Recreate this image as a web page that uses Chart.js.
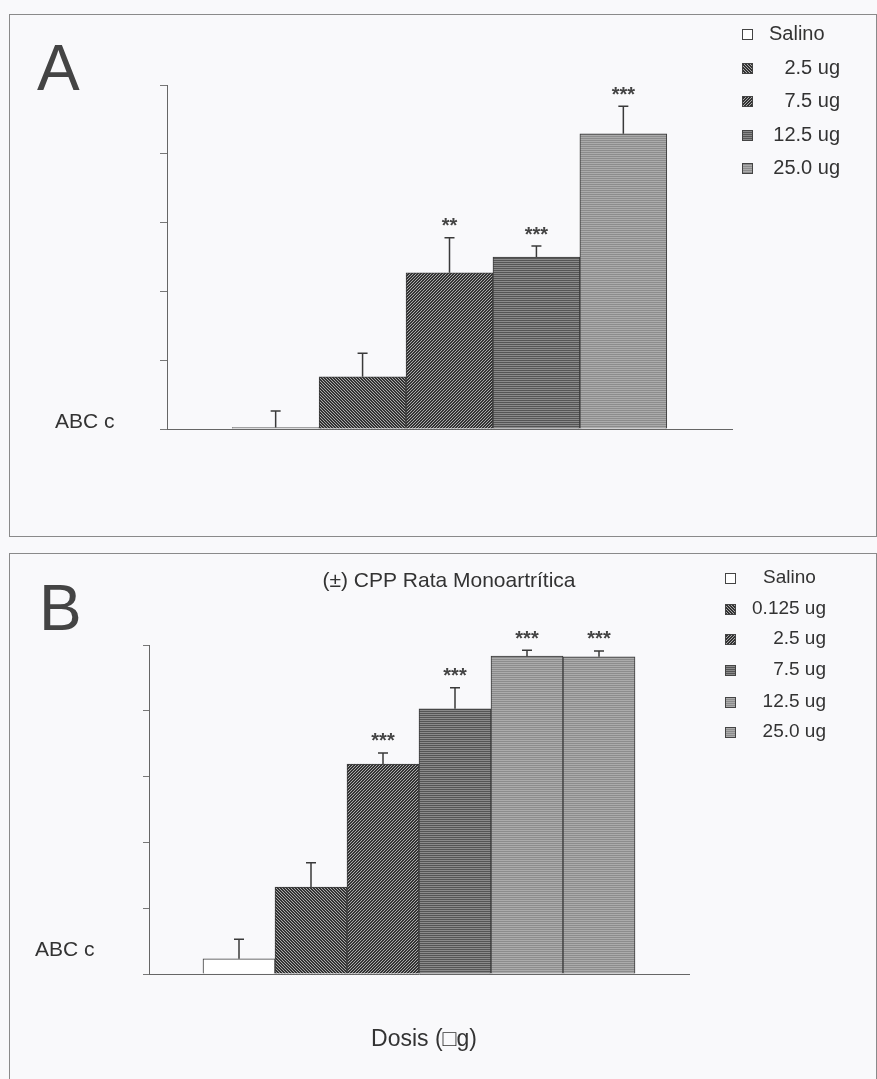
<!DOCTYPE html>
<html>
<head>
<meta charset="utf-8">
<script src="https://cdn.jsdelivr.net/npm/chart.js@4/dist/chart.umd.min.js"></script>
<style>
  body { margin: 0; background: #f9f9fb; width: 877px; height: 1079px; overflow: hidden; position: relative; }
  .panel { position: absolute; border: 1px solid #8a8a8a; }
  canvas { position: absolute; left: 0; }
</style>
</head>
<body>
<div class="panel" style="left:9px; top:14px; width:866px; height:521px;"></div>
<div class="panel" style="left:9px; top:553px; width:866px; height:540px;"></div>
<canvas id="chartA" width="877" height="545" style="top:0"></canvas>
<canvas id="chartB" width="877" height="534" style="top:545px"></canvas>
<script>
// Panel A data
const labelsA = ["Salino", "2.5 ug", "7.5 ug", "12.5 ug", "25.0 ug"];
const valuesA = [0.02, 0.76, 2.27, 2.50, 4.29];
const errorsA = [0.24, 0.34, 0.51, 0.16, 0.40];
const starsA = ["", "", "**", "***", "***"];

// Panel B data
const labelsB = ["Salino", "0.125 ug", "2.5 ug", "7.5 ug", "12.5 ug", "25.0 ug"];
const valuesB = [0.23, 1.32, 3.19, 4.03, 4.83, 4.82];
const errorsB = [0.30, 0.37, 0.17, 0.32, 0.09, 0.09];
const starsB = ["", "", "***", "***", "***", "***"];

const yTicks = [0, 1, 2, 3, 4, 5];

const fontFam = '"Liberation Sans", Arial, sans-serif';
const ink = "#3a3a3a";

function makePattern(kind, dark, light) {
    const c = document.createElement("canvas");
    c.width = 6; c.height = 6;
    const g = c.getContext("2d");
    g.fillStyle = light;
    g.fillRect(0, 0, 6, 6);
    g.fillStyle = dark;
    for (let y = 0; y < 6; y++) {
        for (let x = 0; x < 6; x++) {
            let on = false;
            if (kind === "back") on = (x - y + 6) % 3 !== 2;
            if (kind === "fwd") on = (x + y) % 3 !== 2;
            if (kind === "horiz") on = y % 2 === 0;
            if (on) g.fillRect(x, y, 1, 1);
        }
    }
    return g.createPattern(c, "repeat");
}

const white = "#ffffff";
const backHatch = makePattern("back", "#333333", "#aaaaaa");
const fwdHatch = makePattern("fwd", "#333333", "#aaaaaa");
const darkLines = makePattern("horiz", "#555555", "#8a8a8a");
const lightLines = makePattern("horiz", "#8c8c8c", "#ababab");

const fillsA = [white, backHatch, fwdHatch, darkLines, lightLines];
const fillsB = [white, backHatch, fwdHatch, darkLines, lightLines, lightLines];

// draws error whiskers, stars and all panel text
function panelPlugin(cfg) {
    return {
        id: "panel" + cfg.letter,
        afterDatasetsDraw(chart) {
            const ctx = chart.ctx;
            const xs = chart.scales.x;
            const ys = chart.scales.y;
            ctx.save();
            ctx.strokeStyle = ink;
            ctx.lineWidth = 1.5;
            cfg.values.forEach((v, i) => {
                const px = xs.getPixelForValue(i);
                const top = ys.getPixelForValue(v);
                const et = ys.getPixelForValue(v + cfg.errors[i]);
                ctx.beginPath();
                ctx.moveTo(px, top);
                ctx.lineTo(px, et);
                ctx.moveTo(px - 5, et);
                ctx.lineTo(px + 5, et);
                ctx.stroke();
                if (cfg.stars[i]) {
                    ctx.fillStyle = "#444";
                    ctx.font = "bold 20px " + fontFam;
                    ctx.textAlign = "center";
                    ctx.textBaseline = "middle";
                    ctx.fillText(cfg.stars[i], px, et - 11);
                }
            });

            // big panel letter
            ctx.fillStyle = "#444";
            ctx.font = "64px " + fontFam;
            ctx.textAlign = "left";
            ctx.textBaseline = "alphabetic";
            ctx.fillText(cfg.letter, cfg.letterX, cfg.letterY);

            // y axis label
            ctx.fillStyle = "#333";
            ctx.font = "21px " + fontFam;
            ctx.textBaseline = "middle";
            ctx.fillText("ABC c", cfg.yLabelX, cfg.yLabelY);

            if (cfg.title) {
                ctx.font = "21px " + fontFam;
                ctx.textAlign = "center";
                ctx.fillText(cfg.title, cfg.titleX, cfg.titleY);
            }
            if (cfg.xTitle) {
                ctx.font = "23px " + fontFam;
                ctx.textAlign = "center";
                ctx.fillText(cfg.xTitle, cfg.xTitleX, cfg.xTitleY);
            }

            // legend
            cfg.labels.forEach((lab, i) => {
                const ly = cfg.legendY[i];
                ctx.fillStyle = cfg.fills[i];
                ctx.fillRect(cfg.markX, ly - 5, 10, 10);
                ctx.strokeStyle = "#444";
                ctx.lineWidth = 1;
                ctx.strokeRect(cfg.markX + 0.5, ly - 4.5, 10, 10);
                ctx.fillStyle = "#333";
                ctx.font = cfg.legendFont + "px " + fontFam;
                ctx.textBaseline = "middle";
                if (i === 0) {
                    ctx.textAlign = "left";
                    ctx.fillText(lab, cfg.firstX, ly);
                } else {
                    ctx.textAlign = "right";
                    ctx.fillText(lab, cfg.rightX, ly);
                }
            });
            ctx.restore();
        }
    };
}

function buildChart(id, values, fills, xMax, pad, tickLen, cfg) {
    return new Chart(document.getElementById(id), {
        type: "bar",
        data: {
            datasets: [{
                data: values.map((v, i) => ({ x: i, y: v })),
                backgroundColor: fills,
                borderColor: ink,
                borderWidth: 1,
                categoryPercentage: 1,
                barPercentage: 1
            }]
        },
        options: {
            responsive: false,
            animation: false,
            devicePixelRatio: 1,
            layout: { padding: pad },
            plugins: { legend: { display: false }, tooltip: { enabled: false } },
            scales: {
                x: {
                    type: "linear",
                    offset: false,
                    min: -1.25,
                    max: xMax,
                    grid: { display: false, drawTicks: false },
                    ticks: { display: false },
                    border: { display: true, color: "#666", width: 1 }
                },
                y: {
                    min: 0,
                    max: 5,
                    afterBuildTicks: (s) => { s.ticks = yTicks.map(v => ({ value: v })); },
                    grid: { drawOnChartArea: false, drawTicks: true, tickLength: tickLen, color: "#777" },
                    ticks: { display: false },
                    border: { display: true, color: "#666", width: 1 }
                }
            }
        },
        plugins: [panelPlugin(cfg)]
    });
}

buildChart("chartA", valuesA, fillsA, 5.25,
    { left: 160, top: 85, right: 145, bottom: 116 }, 7,
    {
        letter: "A", letterX: 37, letterY: 90,
        values: valuesA, errors: errorsA, stars: starsA,
        yLabelX: 55, yLabelY: 422,
        labels: labelsA, fills: fillsA, legendFont: 20,
        legendY: [34, 68, 101, 135, 168],
        markX: 742, firstX: 769, rightX: 840
    });

buildChart("chartB", valuesB, fillsB, 6.25,
    { left: 143, top: 100, right: 188, bottom: 105 }, 6,
    {
        letter: "B", letterX: 39, letterY: 630 - 545,
        values: valuesB, errors: errorsB, stars: starsB,
        yLabelX: 35, yLabelY: 950 - 545,
        title: "(±) CPP Rata Monoartrítica", titleX: 449, titleY: 581 - 545,
        xTitle: "Dosis (\u25A1g)", xTitleX: 424, xTitleY: 1040 - 545,
        labels: labelsB, fills: fillsB, legendFont: 19,
        legendY: [578, 609, 639, 670, 702, 732].map(v => v - 545),
        markX: 725, firstX: 763, rightX: 826
    });
</script>
</body>
</html>
